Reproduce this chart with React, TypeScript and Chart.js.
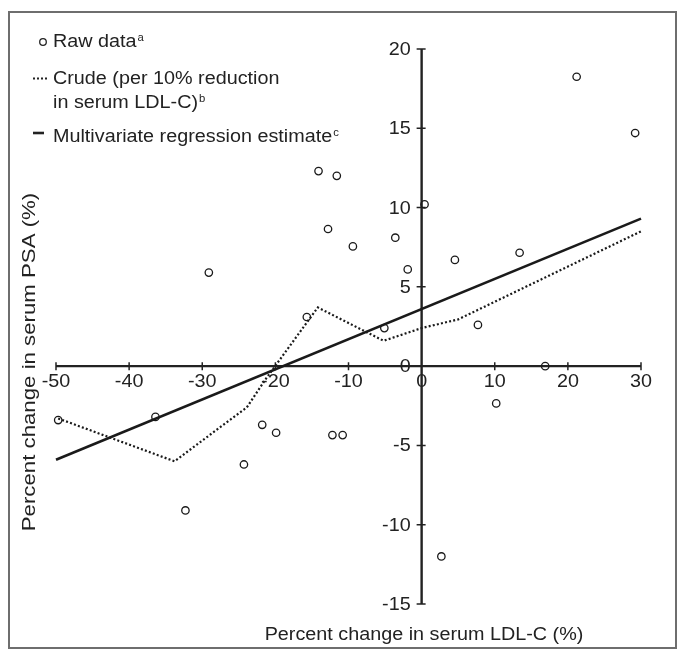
import React, { useEffect, useRef } from "react";
import { Chart, registerables } from "chart.js";

Chart.register(...registerables);

// Raw data points (percent change LDL-C, percent change PSA)
const rawX = [-49.7, -36.4, -32.3, -29.1, -24.3, -21.8, -19.9, -15.7, -14.1, -12.8, -11.6, -9.4, -12.2, -10.8, -5.1, -3.6, -1.9, 0.4, 2.7, 4.55, 7.7, 10.2, 13.4, 16.9, 21.2, 29.2];
const rawY = [-3.4, -3.2, -9.1, 5.9, -6.2, -3.7, -4.2, 3.1, 12.3, 8.65, 12.0, 7.55, -4.35, -4.35, 2.4, 8.1, 6.1, 10.2, -12.0, 6.7, 2.6, -2.35, 7.15, 0, 18.25, 14.7];

// Crude estimate (dotted)
const crudeX = [-49.7, -33.8, -23.9, -21.3, -14.2, -5.2, 0, 5, 30];
const crudeY = [-3.3, -6.0, -2.6, -0.8, 3.7, 1.6, 2.4, 2.95, 8.5];

// Multivariate regression estimate (solid)
const multiX = [-50, 30];
const multiY = [-5.9, 9.3];

const xTicks = [-50, -40, -30, -20, -10, 0, 10, 20, 30];
const yTicks = [20, 15, 10, 5, 0, -5, -10, -15];

const xTitle = "Percent change in serum LDL-C (%)";
const yTitle = "Percent change in serum PSA (%)";
const legendLabels = ["Raw data", "Crude (per 10% reduction", "in serum LDL-C)", "Multivariate regression estimate"];
const legendSup = ["a", "b", "c"];

const FONT = '"Liberation Sans", Arial, Helvetica, sans-serif';
const INK = "#222222";
const SX = 1.13;

function txt(ctx: CanvasRenderingContext2D, s: string, x: number, y: number, size: number, align: CanvasTextAlign, sx: number = SX) {
  ctx.save();
  ctx.font = `${size}px ${FONT}`;
  ctx.fillStyle = INK;
  ctx.translate(x, y);
  ctx.scale(sx, 1);
  ctx.textAlign = align;
  ctx.textBaseline = "alphabetic";
  ctx.fillText(s, 0, 0);
  const w = ctx.measureText(s).width * sx;
  ctx.restore();
  return w;
}

const decorPlugin = {
  id: "decor",
  beforeDatasetsDraw(chart: any) {
    const ctx: CanvasRenderingContext2D = chart.ctx;
    const xs = chart.scales.x;
    const ys = chart.scales.y;
    const x0 = xs.getPixelForValue(0);
    const y0 = ys.getPixelForValue(0);
    ctx.save();
    // frame
    ctx.strokeStyle = "#6e6e6e";
    ctx.lineWidth = 2;
    ctx.strokeRect(9, 12, 667, 636);
    // axes
    ctx.strokeStyle = INK;
    ctx.lineWidth = 2.4;
    ctx.beginPath();
    ctx.moveTo(xs.getPixelForValue(xTicks[0]), y0);
    ctx.lineTo(xs.getPixelForValue(xTicks[xTicks.length - 1]), y0);
    ctx.moveTo(x0, ys.getPixelForValue(yTicks[0]));
    ctx.lineTo(x0, ys.getPixelForValue(yTicks[yTicks.length - 1]));
    ctx.stroke();
    ctx.lineWidth = 1.5;
    ctx.beginPath();
    xTicks.forEach((t) => {
      if (t === 0) return;
      const px = xs.getPixelForValue(t);
      ctx.moveTo(px, y0 - 4);
      ctx.lineTo(px, y0 + 4);
    });
    yTicks.forEach((t) => {
      if (t === 0) return;
      const py = ys.getPixelForValue(t);
      ctx.moveTo(x0 - 5, py);
      ctx.lineTo(x0 + 4, py);
    });
    ctx.stroke();
    ctx.restore();
  },
  afterDraw(chart: any) {
    const ctx: CanvasRenderingContext2D = chart.ctx;
    const xs = chart.scales.x;
    const ys = chart.scales.y;
    const x0 = xs.getPixelForValue(0);
    const y0 = ys.getPixelForValue(0);
    const fs = 17.5;
    xTicks.forEach((t) => {
      txt(ctx, String(t), xs.getPixelForValue(t), y0 + 21, fs, "center");
    });
    yTicks.forEach((t) => {
      txt(ctx, String(t), x0 - 11, ys.getPixelForValue(t) + 6, fs, "right");
    });
    // axis titles
    txt(ctx, xTitle, 424, 640, fs, "center");
    ctx.save();
    ctx.translate(35, 362);
    ctx.rotate(-Math.PI / 2);
    txt(ctx, yTitle, 0, 0, fs, "center", 1.27);
    ctx.restore();

    // legend
    ctx.save();
    ctx.strokeStyle = INK;
    ctx.lineWidth = 1.3;
    ctx.beginPath();
    ctx.arc(43, 42, 3.3, 0, Math.PI * 2);
    ctx.stroke();
    ctx.lineWidth = 2;
    ctx.setLineDash([2, 2]);
    ctx.beginPath();
    ctx.moveTo(33, 78.5);
    ctx.lineTo(48, 78.5);
    ctx.stroke();
    ctx.setLineDash([]);
    ctx.lineWidth = 2.6;
    ctx.beginPath();
    ctx.moveTo(33, 133);
    ctx.lineTo(44, 133);
    ctx.stroke();
    ctx.restore();

    const lx = 53;
    let w = txt(ctx, legendLabels[0], lx, 47, fs, "left");
    txt(ctx, legendSup[0], lx + w + 1, 41, 10, "left");
    txt(ctx, legendLabels[1], lx, 84, fs, "left");
    w = txt(ctx, legendLabels[2], lx, 108, fs, "left");
    txt(ctx, legendSup[1], lx + w + 1, 102, 10, "left");
    w = txt(ctx, legendLabels[3], lx, 142, fs, "left");
    txt(ctx, legendSup[2], lx + w + 1, 136, 10, "left");
  },
};

export default function App() {
  const ref = useRef<HTMLCanvasElement>(null);
  useEffect(() => {
    document.body.style.margin = "0";
    const canvas = ref.current!;
    const chart = new Chart(canvas, {
      type: "scatter",
      data: {
        datasets: [
          {
            type: "line",
            label: "Multivariate",
            data: multiX.map((x, i) => ({ x, y: multiY[i] })),
            borderColor: "#1a1a1a",
            borderWidth: 2.6,
            pointRadius: 0,
            fill: false,
            clip: false,
          } as any,
          {
            type: "line",
            label: "Crude",
            data: crudeX.map((x, i) => ({ x, y: crudeY[i] })),
            borderColor: "#1a1a1a",
            borderWidth: 2.2,
            borderDash: [2, 2.2],
            pointRadius: 0,
            fill: false,
            tension: 0,
            clip: false,
          } as any,
          {
            label: "Raw data",
            data: rawX.map((x, i) => ({ x, y: rawY[i] })),
            pointStyle: "circle",
            pointRadius: 3.7,
            pointBorderWidth: 1.3,
            borderColor: "#1a1a1a",
            backgroundColor: "rgba(0,0,0,0)",
            clip: false,
          } as any,
        ],
      },
      options: {
        responsive: false,
        animation: false,
        devicePixelRatio: 1,
        layout: { padding: { left: 56, right: 38, top: 49, bottom: 49 } },
        plugins: { legend: { display: false }, tooltip: { enabled: false }, title: { display: false } },
        scales: {
          x: { type: "linear", min: -50, max: 30, display: false },
          y: { type: "linear", min: -15, max: 20, display: false },
        },
      },
      plugins: [decorPlugin],
    });
    return () => chart.destroy();
  }, []);
  return (
    <div style={{ position: "fixed", left: 0, top: 0, width: 679, height: 653, background: "#fff" }}>
      <canvas ref={ref} width={679} height={653} style={{ display: "block" }} />
    </div>
  );
}
